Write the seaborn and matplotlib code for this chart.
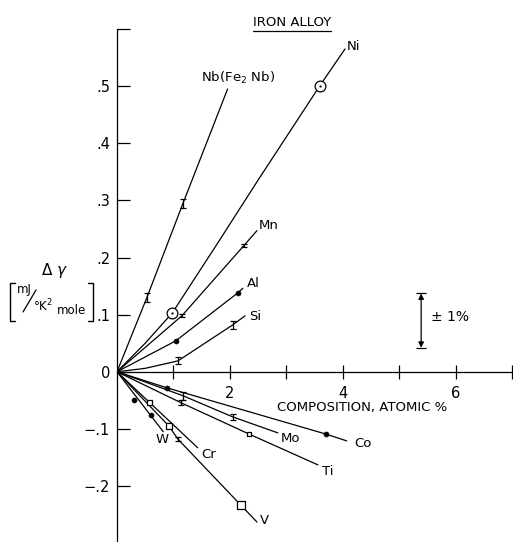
import matplotlib
matplotlib.use("Agg")
import matplotlib.pyplot as plt
from matplotlib.lines import Line2D
import pandas as pd
import seaborn as sns

# fitted curves (composition, at.%  ->  delta gamma, mJ/K^2 mole)
curves = {
    "Nb": ([0, 0.53, 1.17, 1.96], [0, 0.130, 0.295, 0.495]),
    "Ni": ([0, 0.50, 0.98, 1.75, 2.51, 3.59, 4.04], [0, 0.050, 0.103, 0.220, 0.337, 0.500, 0.565]),
    "Mn": ([0, 1.15, 2.25, 2.48], [0, 0.098, 0.221, 0.247]),
    "Al": ([0, 1.04, 2.14, 2.23], [0, 0.054, 0.138, 0.146]),
    "Si": ([0, 0.50, 1.08, 2.05, 2.27], [0, 0.006, 0.019, 0.082, 0.098]),
    "Co": ([0, 0.88, 3.70, 4.07], [0, -0.028, -0.109, -0.121]),
    "Mo": ([0, 1.17, 2.05, 2.85], [0, -0.042, -0.079, -0.107]),
    "Ti": ([0, 1.13, 2.34, 3.56], [0, -0.054, -0.109, -0.163]),
    "V": ([0, 0.92, 1.08, 2.19, 2.48], [0, -0.095, -0.118, -0.233, -0.263]),
    "Cr": ([0, 0.58, 1.43], [0, -0.054, -0.133]),
    "W": ([0, 0.82], [0, -0.105]),
}

# measured points
ni_x = [0.98, 3.59]
ni_y = [0.103, 0.500]
dot_x = [1.04, 2.14, 0.88, 3.70, 0.30, 0.60]          # Al, Co, W
dot_y = [0.054, 0.138, -0.028, -0.109, -0.049, -0.075]
sq_x = [0.58, 0.92, 2.19, 2.34]                       # Cr, V, V, Ti
sq_y = [-0.054, -0.095, -0.233, -0.109]
sq_s = [13, 18, 34, 8]
err_x = [0.53, 1.17, 1.08, 2.05, 1.17, 2.05, 1.13, 1.08, 1.15, 2.25]   # Nb, Si, Mo, Ti, V, Mn
err_y = [0.130, 0.295, 0.019, 0.082, -0.042, -0.079, -0.054, -0.118, 0.098, 0.221]
err_h = [0.008, 0.008, 0.006, 0.007, 0.007, 0.005, 0.004, 0.004, 0.003, 0.003]

labels = ["Ni", "Nb(Fe$_2$ Nb)", "Mn", "Al", "Si", "Co", "Mo", "Ti", "Cr", "W", "V"]
label_x = [4.20, 2.14, 2.68, 2.41, 2.45, 4.36, 3.07, 3.74, 1.63, 0.80, 2.62]
label_y = [0.570, 0.514, 0.256, 0.154, 0.096, -0.126, -0.116, -0.174, -0.144, -0.119, -0.260]

y_ticks = [-0.2, -0.1, 0, 0.1, 0.2, 0.3, 0.4, 0.5, 0.6]
y_ticklabels = ["\u2212.2", "\u2212.1", "0", ".1", ".2", ".3", ".4", ".5", ""]
x_ticks = [1, 2, 3, 4, 5, 6, 7]
x_ticklabels = ["", "2", "", "4", "", "6", ""]

rows = []
for name, (xs, ys) in curves.items():
    for i, (a, b) in enumerate(zip(xs, ys)):
        rows.append({"element": name, "comp": a, "dgamma": b, "order": i})
df = pd.DataFrame(rows)

sns.set_theme(style="white")
plt.rcParams["font.family"] = ["DejaVu Sans"]
plt.rcParams["text.color"] = "black"
plt.rcParams["xtick.color"] = "black"
plt.rcParams["ytick.color"] = "black"

W_PX, H_PX = 513, 542
fig = plt.figure(figsize=(W_PX / 100, H_PX / 100), dpi=100)
ax = fig.add_axes([117 / W_PX, 0, 395 / W_PX, 513 / H_PX])

sns.lineplot(data=df, x="comp", y="dgamma", units="element", estimator=None,
             sort=False, color="black", linewidth=0.9, ax=ax, legend=False)

ax.errorbar(err_x, err_y, yerr=err_h, fmt="none", ecolor="black",
            elinewidth=0.9, capsize=2.5, capthick=0.9, zorder=3)
sns.scatterplot(x=dot_x, y=dot_y, color="black", s=14, edgecolor="black", ax=ax, zorder=4)
sns.scatterplot(x=sq_x, y=sq_y, marker="s", size=sq_s, sizes=(8, 34), color="white",
                edgecolor="black", linewidth=0.9, ax=ax, zorder=4, legend=False)
sns.scatterplot(x=ni_x, y=ni_y, marker="o", s=60, color="white", edgecolor="black",
                linewidth=0.9, ax=ax, zorder=4)
sns.scatterplot(x=ni_x, y=ni_y, marker="o", s=3, color="black", ax=ax, zorder=5)

for t, lx, ly in zip(labels, label_x, label_y):
    ax.text(lx, ly, t, fontsize=9.5, ha="center", va="center")

# +-1% scale marker
ax.annotate("", xy=(5.39, 0.137), xytext=(5.39, 0.042),
            arrowprops=dict(arrowstyle="<|-|>", color="black", lw=0.9,
                            mutation_scale=8, shrinkA=0, shrinkB=0))
ax.hlines([0.137, 0.042], 5.30, 5.48, color="black", lw=0.9)
ax.text(5.90, 0.095, "\u00b1 1%", fontsize=10, ha="center", va="center")

ax.text(4.34, -0.063, "COMPOSITION, ATOMIC %", fontsize=9.5, ha="center", va="center")

ax.set_xlim(0, 7)
ax.set_ylim(-0.298, 0.6)
ax.set_xlabel("")
ax.set_ylabel("")
ax.spines["bottom"].set_position(("data", 0))
ax.spines["top"].set_visible(False)
ax.spines["right"].set_visible(False)
for s in ["left", "bottom"]:
    ax.spines[s].set_color("black")
    ax.spines[s].set_linewidth(0.9)
ax.set_xticks(x_ticks)
ax.set_xticklabels(x_ticklabels)
ax.set_yticks(y_ticks)
ax.set_yticklabels(y_ticklabels)
ax.tick_params(axis="x", direction="inout", length=10, width=0.9, pad=5,
               labelsize=10.5, color="black", bottom=True)
ax.tick_params(axis="y", direction="in", length=9, width=0.9, pad=5,
               labelsize=10.5, color="black", left=True)


def fx(px):
    return px / W_PX


def fy(py):
    return 1 - py / H_PX


# title with underline
title = fig.text(fx(292), fy(22), "IRON ALLOY", fontsize=9.5, ha="center", va="center")
fig.canvas.draw()
bb = title.get_window_extent().transformed(fig.transFigure.inverted())
fig.add_artist(Line2D([bb.x0, bb.x1], [bb.y0 - 0.004, bb.y0 - 0.004],
                      color="black", lw=0.9, transform=fig.transFigure))

# y label: delta gamma [mJ / K^2 mole]
fig.text(fx(55), fy(270), r"$\Delta\ \gamma$", fontsize=11, ha="center", va="center")
fig.text(fx(24), fy(290), "mJ", fontsize=8.5, ha="center", va="center")
fig.add_artist(Line2D([fx(36), fx(23)], [fy(290), fy(312)], color="black", lw=0.9,
                      transform=fig.transFigure))
fig.text(fx(43), fy(306), "\u00b0K$^2$", fontsize=8.5, ha="center", va="center")
fig.text(fx(72), fy(311), "mole", fontsize=8.5, ha="center", va="center")
for xa, xb in [(fx(10), fx(15)), (fx(93), fx(88))]:
    fig.add_artist(Line2D([xb, xa, xa, xb], [fy(283), fy(283), fy(321), fy(321)],
                          color="black", lw=1.0, transform=fig.transFigure))

fig.savefig("out.png", dpi=100)
